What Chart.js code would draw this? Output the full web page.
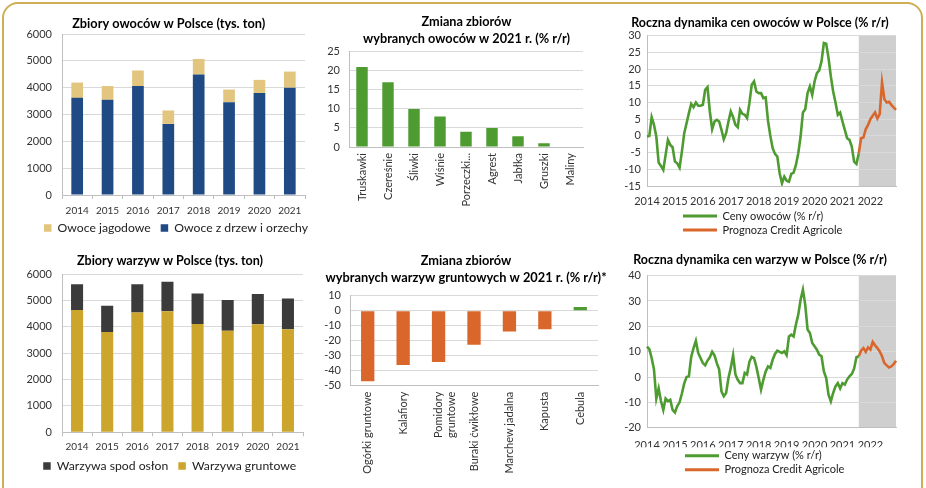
<!DOCTYPE html>
<html><head><meta charset="utf-8">
<script src="https://cdn.jsdelivr.net/npm/chart.js@4"></script>
<style>
html,body{margin:0;padding:0;background:#fff;width:926px;height:488px;overflow:hidden}
#frame{position:absolute;left:2px;top:2px;width:921px;height:600px;border:2px solid #cfae55;border-radius:16px;box-sizing:border-box}
canvas{position:absolute}
</style></head><body>
<div id="frame"></div>
<canvas id="c1" width="315" height="258" style="left:0;top:0"></canvas>
<canvas id="c2" width="290" height="240" style="left:312px;top:0"></canvas>
<canvas id="c3" width="300" height="246" style="left:612px;top:0"></canvas>
<canvas id="c4" width="315" height="256" style="left:0;top:240px"></canvas>
<canvas id="c5" width="300" height="248" style="left:312px;top:240px"></canvas>
<canvas id="c6" width="300" height="248" style="left:612px;top:240px"></canvas>
<script>
// ---------- DATA ----------
const years = ['2014','2015','2016','2017','2018','2019','2020','2021'];
const fruitTree = [3620,3550,4060,2650,4490,3460,3800,4000];
const fruitBerry = [570,510,580,500,580,470,490,600];
const vegField = [4640,3800,4540,4590,4110,3850,4100,3910];
const vegCovered = [970,1000,1070,1120,1155,1170,1145,1160];

const fruitKinds = ['Truskawki','Czereśnie','Śliwki','Wiśnie','Porzeczki...','Agrest','Jabłka','Gruszki','Maliny'];
const fruitChange = [21,17,10,8,4,5,2.8,1,0];

const vegKinds = ['Ogórki gruntowe','Kalafiory',['Pomidory','gruntowe'],'Buraki ćwikłowe','Marchew jadalna','Kapusta','Cebula'];
const vegChange = [-47.5,-36.5,-34.5,-23,-14,-12.5,2.5];

const priceYears = ['2014','2015','2016','2017','2018','2019','2020','2021','2022'];
const fruitPrices = [
 -0.2, 0, 5.6, 3.3, -0.2, -8, -9, -10.2, -5.7, -1.2, -2.7, -3.4,
 -7.7, -8.2, -9.5, -4.7, 0.8, 3.8, 6.8, 9.6, 8.6, 10, 9, 9,
 9.3, 13.8, 14.6, 7.3, 2, 4.3, 4.8, 4.3, 1.8, -1, 0.8, 4.3,
 7.3, 5.6, 3.3, 2.6, 7.8, 6.6, 6.3, 5.3, 9.8, 15.3, 16.3, 13.3,
 12.8, 12.8, 11.3, 11.5, 4.5, 0, -3.7, -5.4, -6.2, -11.2, -14.2, -12.2,
 -13.4, -13.7, -11.4, -11, -8.7, -5.2, -0.2, 7, 8, 12.8, 14.8, 12.3,
 16.3, 18.8, 19.6, 22.3, 27.8, 27.6, 23.3, 17.8, 13.3, 10, 6.3, 7,
 4.3, 1.8, -0.7, -1.2, -3.2, -7.7, -8.4, -5.2];
const fruitForecast = [-5.2, -0.7, -0.5, 2, 3.3, 5, 6, 7, 5.2, 6.5, 16, 11, 10, 10.2, 9.3, 8.5, 7.8];
const vegPrices = [
 12, 11, 7.5, 3, -8.5, -4.5, -9.5, -13, -8.5, -9.5, -9, -13,
 -14, -11.5, -10, -6.5, -2.5, 0, 0.3, 8, 11.4, 14.3, 9.5, 7.5,
 5.5, 4.6, 6.5, 7.8, 10, 8.6, 5.5, 3, -5.7, -7.6, -6.3, -0.4,
 3.6, 8.6, 1, -1.1, -2.4, -2.4, 1.6, 1, 6, 8, 7.5, 4,
 -0.4, -5, -1.1, 2.2, 4.2, 3.6, 6.8, 9.1, 10.4, 9.9, 9.5, 10.1,
 8.6, 16, 16.7, 16, 20.7, 24.6, 30.5, 34.5, 28.5, 18.7, 17.4, 13.4,
 12.1, 10.8, 8.8, 8.2, 2.2, -0.4, -7, -9.6, -6.3, -3.7, -2.4, -4.5,
 -2.4, -3, -1, 0.3, 1.2, 3.3, 7.8, 8.2];
const vegForecast = [8.2, 10.4, 11.4, 9.9, 11.7, 10.8, 13.8, 12.5, 11.4, 10.1, 8.2, 5.5, 4.6, 3.8, 4.2, 5.1, 6.4];
const forecastStart = 91;

// ---------- STYLE ----------
const BLUE='#1f4a84', TAN='#e2c57f', DARK='#3b3b3b', GOLD='#cca52d';
const GREEN='#4e9b31', ORANGE='#d9672b', SHADE='#cfcfcf';
const GRID='#d9d9d9', AXIS='#bfbfbf', TXT='#333333';

Chart.defaults.font.family = 'Lato, "Liberation Sans", sans-serif';
Chart.defaults.color = TXT;
Chart.defaults.animation = false;
Chart.defaults.events = [];
Chart.defaults.plugins.tooltip.enabled = false;

const monthLabels = [];
priceYears.forEach(y => { for (let m = 1; m <= 12; m++) monthLabels.push(y + '-' + String(m).padStart(2, '0')); });
const padForecast = arr => Array(forecastStart).fill(null).concat(arr);

const fixW = w => s => { s.width = w; };
const fixH = h => s => { s.height = h; };
const plain = v => v;

const tweaks = {
  id: 'tweaks',
  afterLayout(chart, args, o) {
    if (o.titleCenter != null && chart.titleBlock) {
      const t = chart.titleBlock, w = t.right - t.left;
      t.left = o.titleCenter - w / 2; t.right = t.left + w;
    }
    if (chart.legend) {
      const l = chart.legend;
      if (o.legendCenter != null) {
        const w = l.right - l.left;
        l.left = o.legendCenter - w / 2; l.right = l.left + w;
      }
      if (o.legendLeft != null) {
        l.left = o.legendLeft; l.right = o.legendLeft + (o.legendWidth || 200);
      }
      if (o.legendTop != null) {
        const h = l.bottom - l.top;
        l.top = o.legendTop; l.bottom = l.top + h;
      }
    }
  },
  beforeDraw(chart, args, o) {
    if (o.shadeFrom == null) return;
    const a = chart.chartArea, x = chart.scales.x.getPixelForValue(o.shadeFrom);
    const ctx = chart.ctx;
    ctx.save(); ctx.fillStyle = o.shadeColor;
    ctx.fillRect(x, a.top, a.right - x, a.bottom - a.top);
    ctx.restore();
  }
};

function lineLegend(chart) {
  return Chart.defaults.plugins.legend.labels.generateLabels(chart)
    .map(l => Object.assign(l, {fillStyle: l.strokeStyle, lineWidth: 0}));
}

function titleOpt(text, size, pt, pb, lh) {
  return {display: true, text, color: '#000', font: {size, weight: 'bold', lineHeight: lh || 1.2}, padding: {top: pt, bottom: pb}};
}

// ---------- CHART 1 ----------
new Chart(document.getElementById('c1'), {
  type: 'bar',
  data: {labels: years, datasets: [
    {label: 'Owoce z drzew i orzechy', data: fruitTree, backgroundColor: BLUE, categoryPercentage: 1, barPercentage: 0.385},
    {label: 'Owoce jagodowe', data: fruitBerry, backgroundColor: TAN, categoryPercentage: 1, barPercentage: 0.385}
  ]},
  options: {
    responsive: false,
    layout: {padding: {left: 0, right: 10, top: 0, bottom: 4.8}},
    scales: {
      x: {stacked: true, grid: {drawOnChartArea: false, drawTicks: true, tickLength: 4, color: AXIS}, border: {color: AXIS},
          ticks: {font: {size: 10}, padding: 6, maxRotation: 0, autoSkip: false}, afterFit: fixH(26)},
      y: {stacked: true, min: 0, max: 6000, grid: {color: GRID, drawTicks: false}, border: {color: AXIS},
          ticks: {stepSize: 1000, font: {size: 11}, padding: 10, autoSkip: false, callback: plain}, afterFit: fixW(62)}
    },
    plugins: {
      title: titleOpt('Zbiory owoców w Polsce (tys. ton)', 12.75, 16, 2.7),
      legend: {position: 'bottom', reverse: true, labels: {boxWidth: 7.5, boxHeight: 7.5, padding: 10, font: {size: 12.2}, color: '#222'}},
      tweaks: {titleCenter: 168.7, legendCenter: 176, legendTop: 211.9}
    }
  },
  plugins: [tweaks]
});

// ---------- CHART 4 ----------
new Chart(document.getElementById('c4'), {
  type: 'bar',
  data: {labels: years, datasets: [
    {label: 'Warzywa gruntowe', data: vegField, backgroundColor: GOLD, categoryPercentage: 1, barPercentage: 0.4},
    {label: 'Warzywa spod osłon', data: vegCovered, backgroundColor: DARK, categoryPercentage: 1, barPercentage: 0.4}
  ]},
  options: {
    responsive: false,
    layout: {padding: {left: 0, right: 12, top: 0, bottom: 5.5}},
    scales: {
      x: {stacked: true, grid: {drawOnChartArea: false, drawTicks: true, tickLength: 4, color: AXIS}, border: {color: AXIS},
          ticks: {font: {size: 10}, padding: 4.7, maxRotation: 0, autoSkip: false}, afterFit: fixH(26)},
      y: {stacked: true, min: 0, max: 6000, grid: {color: GRID, drawTicks: false}, border: {color: AXIS},
          ticks: {stepSize: 1000, font: {size: 11}, padding: 10, autoSkip: false, callback: plain}, afterFit: fixW(62)}
    },
    plugins: {
      title: titleOpt('Zbiory warzyw w Polsce (tys. ton)', 12.55, 13.5, 5.5),
      legend: {position: 'bottom', reverse: true, labels: {boxWidth: 7.5, boxHeight: 7.5, padding: 10, font: {size: 12.2}, color: '#222'}},
      tweaks: {titleCenter: 170, legendCenter: 169.7, legendTop: 209.9}
    }
  },
  plugins: [tweaks]
});

// ---------- CHART 2 ----------
new Chart(document.getElementById('c2'), {
  type: 'bar',
  data: {labels: fruitKinds, datasets: [
    {label: 'Zmiana zbiorów', data: fruitChange, backgroundColor: GREEN, categoryPercentage: 1, barPercentage: 0.44}
  ]},
  options: {
    responsive: false,
    layout: {padding: {left: 0, right: 19, top: 0, bottom: 0}},
    scales: {
      x: {grid: {display: false, drawTicks: false}, border: {color: AXIS},
          ticks: {font: {size: 11}, padding: 6, minRotation: 90, maxRotation: 90, autoSkip: false}, afterFit: fixH(93)},
      y: {min: 0, max: 25, grid: {color: GRID, drawTicks: false}, border: {color: AXIS},
          ticks: {stepSize: 5, font: {size: 11}, padding: 9, autoSkip: false}, afterFit: fixW(37)}
    },
    plugins: {
      title: titleOpt(['Zmiana zbiorów', 'wybranych owoców w 2021 r. (% r/r)'], 12.7, 13.1, 4.3, 1.35),
      legend: {display: false},
      tweaks: {titleCenter: 154.5}
    }
  },
  plugins: [tweaks]
});

// ---------- CHART 5 ----------
new Chart(document.getElementById('c5'), {
  type: 'bar',
  data: {labels: vegKinds, datasets: [
    {label: 'Zmiana zbiorów', data: vegChange, backgroundColor: vegChange.map(v => v < 0 ? ORANGE : GREEN), categoryPercentage: 1, barPercentage: 0.376}
  ]},
  options: {
    responsive: false,
    layout: {padding: {left: 0, right: 14, top: 0, bottom: 0}},
    scales: {
      x: {grid: {display: false, drawTicks: false}, border: {color: AXIS},
          ticks: {font: {size: 11}, padding: 6.7, minRotation: 90, maxRotation: 90, autoSkip: false}, afterFit: fixH(103)},
      y: {min: -50, max: 10, grid: {color: GRID, drawTicks: false}, border: {color: AXIS},
          ticks: {stepSize: 10, font: {size: 11}, padding: 9, autoSkip: false}, afterFit: fixW(38)}
    },
    plugins: {
      title: titleOpt(['Zmiana zbiorów', 'wybranych warzyw gruntowych w 2021 r. (% r/r)*'], 12.8, 12.4, 8.8, 1.35),
      legend: {display: false},
      tweaks: {titleCenter: 154}
    }
  },
  plugins: [tweaks]
});

// ---------- LINE CHARTS ----------
function lineChart(id, seriesLabel, hist, fc, yMin, yMax, step, t, lay) {
  new Chart(document.getElementById(id), {
    type: 'line',
    data: {labels: monthLabels, datasets: [
      {label: seriesLabel, data: hist, borderColor: GREEN, backgroundColor: GREEN, borderWidth: 2.6, pointRadius: 0, tension: 0},
      {label: 'Prognoza Credit Agricole', data: padForecast(fc), borderColor: ORANGE, backgroundColor: ORANGE, borderWidth: 2.6, pointRadius: 0, tension: 0}
    ]},
    options: {
      responsive: false,
      layout: {padding: {left: 0, right: 16, top: 0, bottom: lay.pb}},
      scales: {
        x: {grid: {display: false, drawTicks: false}, border: {color: AXIS},
            ticks: {autoSkip: false, maxRotation: 0, minRotation: 0, padding: lay.xp, font: {size: 11},
                    callback: function (v) { const l = this.getLabelForValue(v); return l.endsWith('-01') ? l.slice(0, 4) : ''; }},
            afterFit: fixH(lay.xh)},
        y: {min: yMin, max: yMax, grid: {color: GRID, drawTicks: false}, border: {color: AXIS},
            ticks: {stepSize: step, font: {size: 11}, padding: 6, autoSkip: false}, afterFit: fixW(35)}
      },
      plugins: {
        title: titleOpt(t, 12.45, lay.tpt, lay.tpb),
        legend: {position: 'bottom', align: 'start', labels: {boxWidth: 34, boxHeight: 3, padding: 3, font: {size: 11}, color: '#222', generateLabels: lineLegend}},
        tweaks: {titleCenter: 148, legendLeft: lay.ll, legendWidth: 200, shadeFrom: forecastStart, shadeColor: SHADE}
      }
    },
    plugins: [tweaks]
  });
}
lineChart('c3', 'Ceny owoców (% r/r)', fruitPrices, fruitForecast, -15, 30, 5,
  'Roczna dynamika cen owoców w Polsce (% r/r)', {pb: 0.5, xp: 9.1, xh: 21.5, tpt: 15.2, tpb: 5.5, ll: 68});
lineChart('c6', 'Ceny warzyw (% r/r)', vegPrices, vegForecast, -20, 40, 10,
  'Roczna dynamika cen warzyw w Polsce (% r/r)', {pb: 2.8, xp: 10.7, xh: 19.5, tpt: 12.5, tpb: 8.2, ll: 70});
</script>
</body></html>
